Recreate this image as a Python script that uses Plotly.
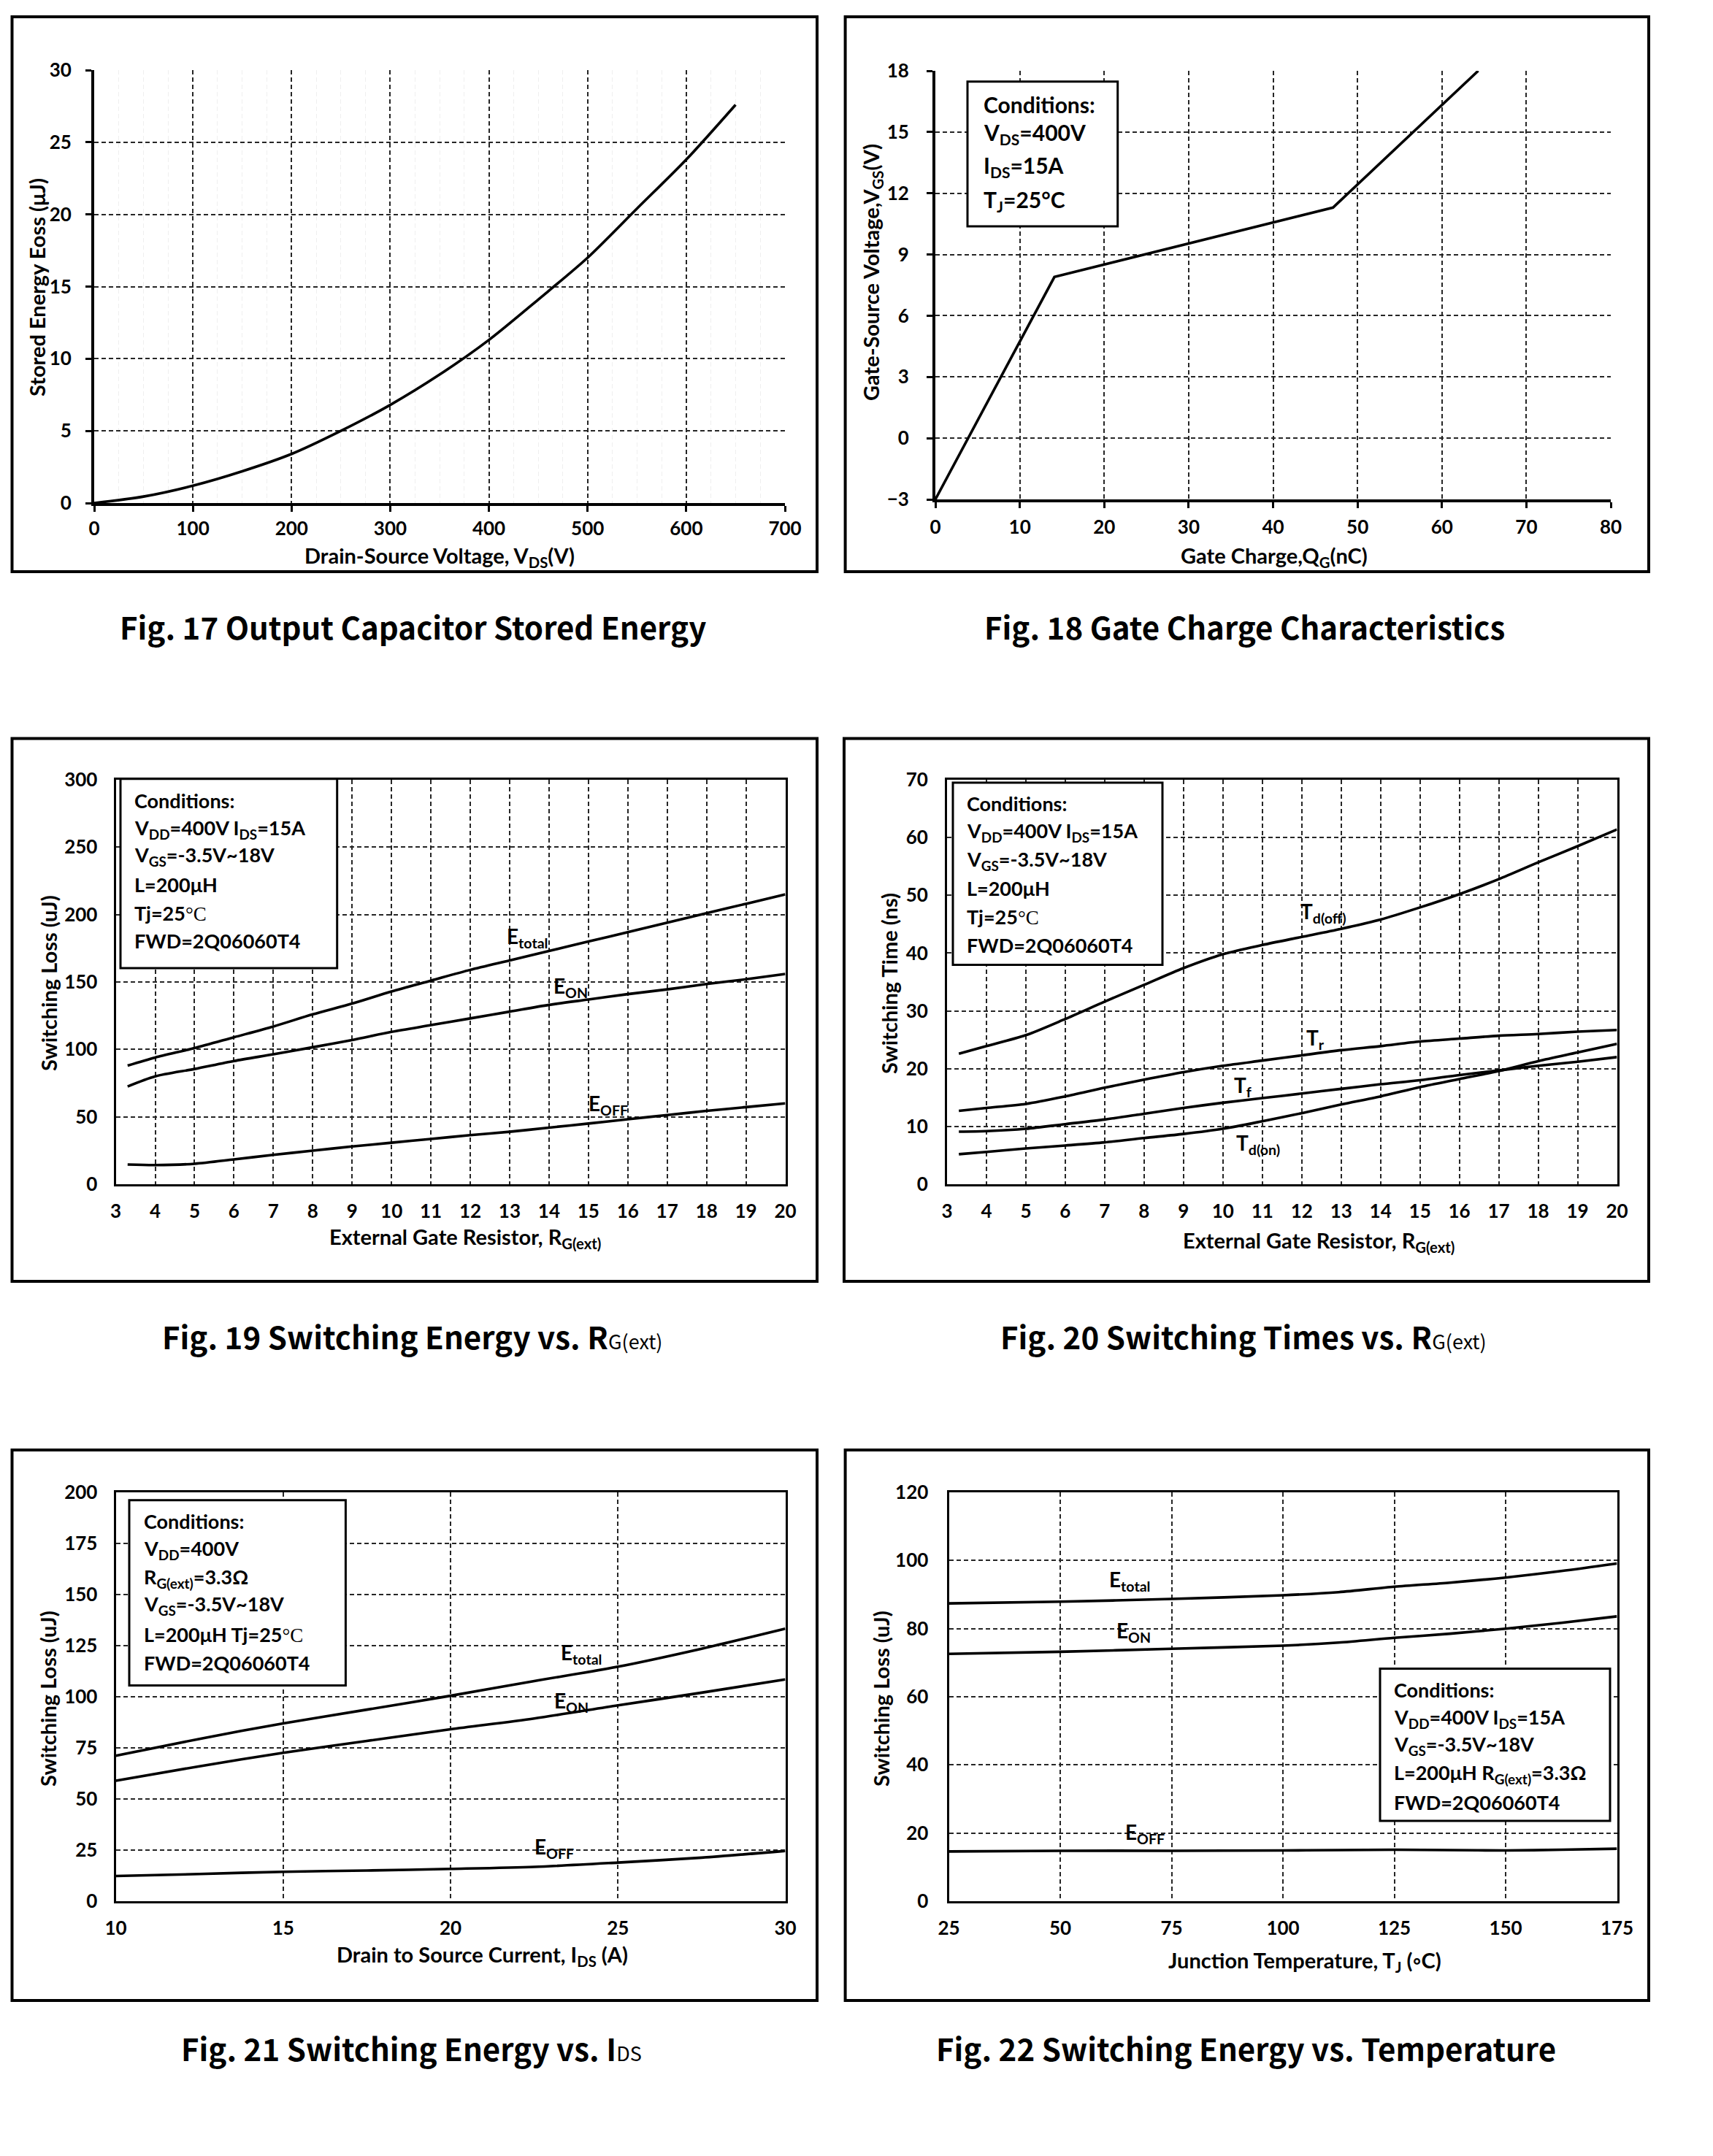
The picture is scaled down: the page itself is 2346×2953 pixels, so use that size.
import plotly.graph_objects as go

W, H = 2346, 2953          # browser window
OFF = 8                    # default page margin around the figure
FW, FH = W - 2 * OFF, H - 2 * OFF

# ---------------- data ----------------
# Fig. 17
vds = [0, 50, 100, 150, 200, 250, 300, 350, 400, 450, 500, 550, 600, 650]
eoss = [0, 0.45, 1.2, 2.2, 3.4, 5.0, 6.8, 8.9, 11.3, 14.1, 17.0, 20.4, 23.8, 27.6]
# Fig. 18
qg = [0, 14.1, 47.1, 64.3]
vgs = [-3, 7.9, 11.3, 18]
# Fig. 19
rg = [3.3, 4, 5, 6, 7, 8, 9, 10, 11, 12, 13, 14, 15, 16, 17, 18, 19, 20]
e_total_rg = [88, 94, 101, 109, 117, 126, 134, 143, 151, 159, 166, 173, 180, 187, 194, 201, 208, 215]
e_on_rg = [72.5, 80, 85.5, 91.4, 96.4, 101.6, 107, 113, 118, 123, 128, 133, 137, 141, 144.5, 148.5, 152, 156]
e_off_rg = [14.6, 14.2, 15.2, 18.4, 21.8, 24.9, 28, 30.8, 33.6, 36.4, 38.9, 42, 45, 48.2, 51.3, 54.4, 57.2, 60]
# Fig. 20
td_off = [22.6, 23.9, 25.8, 28.6, 31.6, 34.5, 37.4, 39.8, 41.4, 42.8, 44.2, 45.8, 47.9, 50.2, 52.8, 55.7, 58.5, 61.4]
tr = [12.7, 13.2, 13.9, 15.2, 16.7, 18.1, 19.4, 20.5, 21.4, 22.3, 23.2, 23.9, 24.7, 25.2, 25.7, 26.0, 26.4, 26.7]
tf = [9.1, 9.2, 9.6, 10.4, 11.2, 12.2, 13.2, 14.1, 14.9, 15.7, 16.5, 17.3, 18.0, 18.9, 19.7, 20.5, 21.2, 22.0]
td_on = [5.2, 5.6, 6.2, 6.7, 7.25, 8.0, 8.7, 9.6, 10.9, 12.3, 13.8, 15.2, 16.8, 18.2, 19.6, 21.3, 22.8, 24.3]
# Fig. 21
ids = [10, 12.5, 15, 17.5, 20, 22.5, 25, 27.5, 30]
e_total_id = [71.2, 79.4, 87, 93.7, 100.5, 107.7, 114.7, 123.5, 133.3]
e_on_id = [58.9, 66, 72.6, 78.4, 84.1, 89.4, 95.8, 102, 108.5]
e_off_id = [12.3, 13.3, 14.4, 15.0, 15.8, 16.8, 18.9, 21.3, 24.6]
# Fig. 22
tj = [25, 50, 75, 100, 112.5, 125, 137.5, 150, 162.5, 175]
e_total_t = [87.4, 87.9, 88.7, 89.8, 90.7, 92.3, 93.5, 95, 96.9, 99.1]
e_on_t = [72.6, 73.2, 74.1, 75, 75.9, 77.3, 78.5, 80, 81.7, 83.6]
e_off_t = [14.6, 14.8, 14.8, 14.9, 15.0, 15.1, 15.0, 14.9, 15.1, 15.4]

captions = [
    "Fig. 17 Output Capacitor Stored Energy",
    "Fig. 18 Gate Charge Characteristics",
    "Fig. 19 Switching Energy vs. R<span style='font-size:27px;font-weight:normal'>G(ext)</span>",
    "Fig. 20 Switching Times vs. R<span style='font-size:27px;font-weight:normal'>G(ext)</span>",
    "Fig. 21 Switching Energy vs. I<span style='font-size:27px;font-weight:normal'>DS</span>",
    "Fig. 22 Switching Energy vs. Temperature",
]
x_titles = [
    "Drain-Source Voltage, V<sub>DS</sub>(V)",
    "Gate Charge,Q<sub>G</sub>(nC)",
    "External Gate Resistor, R<sub>G(ext)</sub>",
    "External Gate Resistor, R<sub>G(ext)</sub>",
    "Drain to Source Current, I<sub>DS</sub> (A)",
    "Junction Temperature, T<sub>J</sub> (\u25e6C)",
]
y_titles = [
    "Stored Energy Eoss (\u03bcJ)",
    "Gate-Source Voltage,V<sub>GS</sub>(V)",
    "Switching Loss (uJ)",
    "Switching Time (ns)",
    "Switching Loss (uJ)",
    "Switching Loss (uJ)",
]
SERIF_C = "<span style='font-family:Liberation Serif;font-weight:normal'>\u00b0C</span>"
cond18 = ["Conditions:", "V<sub>DS</sub>=400V", "I<sub>DS</sub>=15A", "T<sub>J</sub>=25\u00b0C"]
cond19 = ["Conditions:", "V<sub>DD</sub>=400V I<sub>DS</sub>=15A", "V<sub>GS</sub>=-3.5V~18V",
          "L=200\u03bcH", "Tj=25" + SERIF_C, "FWD=2Q06060T4"]
cond21 = ["Conditions:", "V<sub>DD</sub>=400V", "R<sub>G(ext)</sub>=3.3\u03a9", "V<sub>GS</sub>=-3.5V~18V",
          "L=200\u03bcH Tj=25" + SERIF_C, "FWD=2Q06060T4"]
cond22 = ["Conditions:", "V<sub>DD</sub>=400V I<sub>DS</sub>=15A", "V<sub>GS</sub>=-3.5V~18V",
          "L=200\u03bcH R<sub>G(ext)</sub>=3.3\u03a9", "FWD=2Q06060T4"]

FONT = "Lato"
CAPFONT = "Noto Sans CJK SC"


def px(x):
    return (x - OFF) / FW


def py(y):
    return 1 - (y - OFF) / FH


fig = go.Figure()
layout = dict(width=FW, height=FH, margin=dict(l=0, r=0, t=0, b=0, pad=0, autoexpand=False),
              paper_bgcolor="white", plot_bgcolor="white", showlegend=False)

# panel geometry (window pixels)
panels = [
    dict(x0=129, x1=1075, y0=96, y1=689, xr=[0, 700], dx=100, yr=[0, 30], dy=5, frame=False,
         box=(16.5, 23, 1119, 783), cap=(565, 857), xt=(602, 763), yt=(50, 394), xs=1, ys=14),
    dict(x0=1281, x1=2206, y0=97, y1=684, xr=[0, 80], dx=10, yr=[-3, 18], dy=3, frame=False,
         box=(1157.6, 23, 2258, 783), cap=(1704, 857), xt=(1745, 762), yt=(1194, 373), xs=4, ys=19),
    dict(x0=158.6, x1=1075.5, y0=1068, y1=1622, xr=[3, 20], dx=1, yr=[0, 300], dy=50, frame=True,
         box=(16.5, 1011.6, 1119, 1755), cap=(564, 1829), xt=(637, 1695), yt=(66, 1347), xs=12, ys=17),
    dict(x0=1297, x1=2214.5, y0=1068, y1=1622, xr=[3, 20], dx=1, yr=[0, 70], dy=10, frame=True,
         box=(1156, 1011.6, 2258, 1755), cap=(1703, 1829), xt=(1806, 1700), yt=(1217, 1347), xs=12, ys=18),
    dict(x0=158.6, x1=1075.5, y0=2044, y1=2604, xr=[10, 30], dx=5, yr=[0, 200], dy=25, frame=True,
         box=(16.5, 1986, 1119, 2740), cap=(563, 2804), xt=(660, 2678), yt=(65, 2327), xs=12, ys=17),
    dict(x0=1299.5, x1=2214.5, y0=2044, y1=2604, xr=[25, 175], dx=25, yr=[0, 120], dy=20, frame=True,
         box=(1157.6, 1986, 2258, 2740), cap=(1706, 2804), xt=(1787, 2686), yt=(1206, 2327), xs=12, ys=20),
]

shapes = []
annotations = []
tickfont = dict(family=FONT, size=26, color="black", weight="bold")
titlefont = dict(family=FONT, size=29, color="black", weight="bold")

for i, p in enumerate(panels):
    n = "" if i == 0 else str(i + 1)
    xa = dict(domain=[px(p["x0"]), px(p["x1"])], anchor="y" + n, range=p["xr"],
              tick0=p["xr"][0], dtick=p["dx"], showgrid=True, gridcolor="#262626",
              griddash="6px,4px", gridwidth=1.6, zeroline=False, showline=True,
              linecolor="black", tickfont=tickfont, fixedrange=True, automargin=False,
              ticklabelstandoff=p["xs"])
    ya = dict(domain=[py(p["y1"]), py(p["y0"])], anchor="x" + n, range=p["yr"],
              tick0=p["yr"][0], dtick=p["dy"], showgrid=True, gridcolor="#262626",
              griddash="6px,4px", gridwidth=1.6, zeroline=False, showline=True,
              linecolor="black", tickfont=tickfont, fixedrange=True, automargin=False,
              ticklabelstandoff=p["ys"])
    if p["frame"]:
        xa.update(mirror=True, linewidth=3, ticks="")
        ya.update(mirror=True, linewidth=3, ticks="")
    else:
        xa.update(mirror=False, linewidth=4, ticks="outside", ticklen=8, tickwidth=3, tickcolor="black")
        ya.update(mirror=False, linewidth=4, ticks="outside", ticklen=8, tickwidth=3, tickcolor="black")
    if i == 0:
        xa.update(minor=dict(dtick=25, showgrid=True, gridcolor="#efefef", gridwidth=1, ticks=""))
    layout["xaxis" + n] = xa
    layout["yaxis" + n] = ya

    bx0, by0, bx1, by1 = p["box"]
    shapes.append(dict(type="rect", xref="paper", yref="paper", x0=px(bx0), x1=px(bx1),
                       y0=py(by1), y1=py(by0), line=dict(color="black", width=4)))
    annotations.append(dict(text=captions[i], xref="paper", yref="paper", x=px(p["cap"][0]),
                            y=py(p["cap"][1]), xanchor="center", yanchor="middle", showarrow=False,
                            font=dict(family=CAPFONT, size=42, color="black", weight="bold")))
    annotations.append(dict(text=x_titles[i], xref="paper", yref="paper", x=px(p["xt"][0]),
                            y=py(p["xt"][1]), xanchor="center", yanchor="middle", showarrow=False,
                            font=titlefont))
    annotations.append(dict(text=y_titles[i], xref="paper", yref="paper", x=px(p["yt"][0]),
                            y=py(p["yt"][1]), xanchor="center", yanchor="middle", showarrow=False,
                            textangle=-90, font=titlefont))

LINE = dict(color="black", width=3.6)


def add(x, y, k, shape="spline"):
    n = "" if k == 1 else str(k)
    fig.add_trace(go.Scatter(x=x, y=y, mode="lines", xaxis="x" + n, yaxis="y" + n,
                             line=dict(LINE, shape=shape, smoothing=0.8) if shape == "spline"
                             else dict(LINE, shape=shape), hoverinfo="skip"))


add(vds, eoss, 1)
add(qg, vgs, 2, "linear")
add(rg, e_total_rg, 3)
add(rg, e_on_rg, 3)
add(rg, e_off_rg, 3)
add(rg, td_off, 4)
add(rg, tr, 4)
add(rg, tf, 4)
add(rg, td_on, 4)
add(ids, e_total_id, 5)
add(ids, e_on_id, 5)
add(ids, e_off_id, 5)
add(tj, e_total_t, 6)
add(tj, e_on_t, 6)
add(tj, e_off_t, 6)

# curve labels
lblfont = dict(family=FONT, size=28, color="black", weight="bold")
curve_labels = [
    (3, 13.45, 183, "E<sub>total</sub>"), (3, 14.55, 146, "E<sub>ON</sub>"), (3, 15.5, 59, "E<sub>OFF</sub>"),
    (4, 12.55, 47, "T<sub>d(off)</sub>"), (4, 12.35, 25.2, "T<sub>r</sub>"), (4, 10.5, 16.9, "T<sub>f</sub>"),
    (4, 10.9, 7.0, "T<sub>d(on)</sub>"),
    (5, 23.9, 121, "E<sub>total</sub>"), (5, 23.6, 97.5, "E<sub>ON</sub>"), (5, 23.1, 26, "E<sub>OFF</sub>"),
    (6, 65.5, 94, "E<sub>total</sub>"), (6, 66.5, 79, "E<sub>ON</sub>"), (6, 69, 20, "E<sub>OFF</sub>"),
]
for k, x, y, t in curve_labels:
    annotations.append(dict(text=t, xref="x" + str(k), yref="y" + str(k), x=x, y=y,
                            xanchor="center", yanchor="middle", showarrow=False, font=lblfont))

# condition boxes (window pixels)
cond_boxes = [
    (cond18, (1325, 111.7, 1530.7, 310), 1345, [143, 183, 228, 275], 30),
    (cond19, (165, 1066.7, 461.7, 1326), 181.7, [1096.7, 1135, 1173, 1211.7, 1250, 1288], 27),
    (cond19, (1305, 1072, 1592, 1321.6), 1321.6, [1100.5, 1139.6, 1178, 1216.5, 1255.5, 1294.6], 27),
    (cond21, (177, 2054.7, 473.4, 2308.5), 194.5, [2083.4, 2122.5, 2161, 2198, 2238.4, 2277], 27),
    (cond22, (1890, 2285.5, 2205, 2494), 1907, [2314, 2353, 2390.5, 2429.6, 2468], 27),
]
for lines, (bx0, by0, bx1, by1), tx, tys, fs in cond_boxes:
    shapes.append(dict(type="rect", xref="paper", yref="paper", x0=px(bx0), x1=px(bx1),
                       y0=py(by1), y1=py(by0), line=dict(color="black", width=3),
                       fillcolor="white", layer="above"))
    for t, ty in zip(lines, tys):
        annotations.append(dict(text=t, xref="paper", yref="paper", x=px(tx), y=py(ty),
                                xanchor="left", yanchor="middle", showarrow=False,
                                font=dict(family=FONT, size=fs, color="black", weight="bold")))

layout["shapes"] = shapes
layout["annotations"] = annotations
fig.update_layout(**layout)
fig.write_html("out.html")
